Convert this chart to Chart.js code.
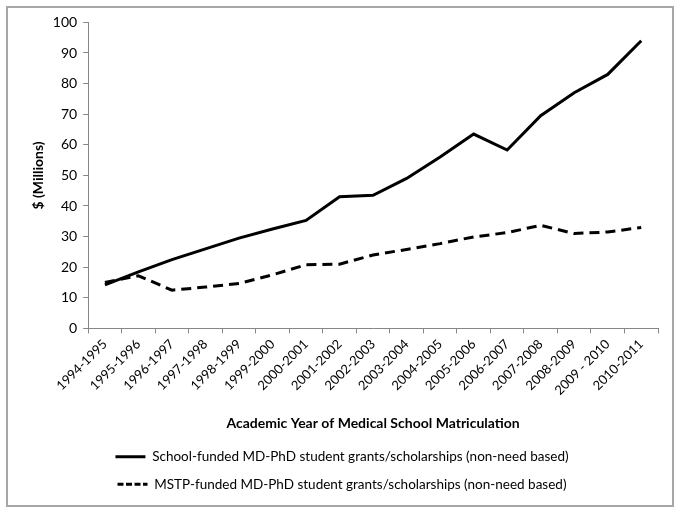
<!DOCTYPE html>
<html>
<head>
<meta charset="utf-8">
<script src="https://cdn.jsdelivr.net/npm/chart.js@4.4.1/dist/chart.umd.min.js"></script>
<style>
  html, body { margin: 0; padding: 0; background: #fff; }
  #frame {
    position: absolute; left: 6px; top: 6px;
    width: 664px; height: 497px;
    border: 2px solid #a6a6a6;
  }
  canvas { display: block; }
</style>
</head>
<body>
<div id="frame"><canvas id="chart" width="664" height="497"></canvas></div>
<script>
const years = [
  '1994-1995', '1995-1996', '1996-1997', '1997-1998', '1998-1999', '1999-2000',
  '2000-2001', '2001-2002', '2002-2003', '2003-2004', '2004-2005', '2005-2006',
  '2006-2007', '2007-2008', '2008-2009', '2009 - 2010', '2010-2011'
];
const schoolFunded = [14.2, 18.5, 22.5, 26, 29.5, 32.5, 35.3, 43, 43.5, 49, 56, 63.5, 58.3, 69.5, 77, 83, 94];
const mstpFunded = [15, 17.2, 12.5, 13.5, 14.7, 17.5, 20.8, 21, 24, 25.8, 27.7, 29.9, 31.3, 33.7, 31, 31.5, 33];
const yTicks = [0, 10, 20, 30, 40, 50, 60, 70, 80, 90, 100];

const axisGray = '#868686';
const fontFamily = 'Lato, "Open Sans", sans-serif';

const ctx = document.getElementById('chart').getContext('2d');
new Chart(ctx, {
  type: 'line',
  data: {
    labels: years,
    datasets: [{
      label: 'School-funded MD-PhD student grants/scholarships (non-need based)',
      data: schoolFunded,
      borderColor: '#000',
      backgroundColor: '#000',
      borderWidth: 3,
      pointRadius: 0,
      tension: 0,
      fill: false
    }, {
      label: 'MSTP-funded MD-PhD student grants/scholarships (non-need based)',
      data: mstpFunded,
      borderColor: '#000',
      backgroundColor: '#000',
      borderWidth: 3,
      borderDash: [10, 6],
      pointRadius: 0,
      tension: 0,
      fill: false
    }]
  },
  options: {
    responsive: false,
    animation: false,
    layout: { padding: { top: 6, right: 14, left: 18, bottom: 4 } },
    plugins: {
      tooltip: { enabled: false },
      legend: {
        position: 'bottom',
        labels: {
          color: '#000',
          font: { family: fontFamily, size: 13.5 },
          usePointStyle: true,
          pointStyle: 'line',
          pointStyleWidth: 30,
          padding: 14,
          generateLabels: chart => {
            const items = Chart.defaults.plugins.legend.labels.generateLabels(chart);
            items.forEach(item => {
              const ds = chart.data.datasets[item.datasetIndex];
              item.lineDash = ds.borderDash ? [6, 2.5] : [];
              item.lineWidth = 3;
            });
            return items;
          }
        }
      }
    },
    scales: {
      x: {
        offset: true,
        grid: {
          offset: true,
          drawOnChartArea: false,
          drawTicks: true,
          tickLength: 5,
          color: axisGray
        },
        border: { color: axisGray, width: 1 },
        ticks: {
          color: '#000',
          autoSkip: false,
          maxRotation: 45,
          minRotation: 45,
          font: { family: fontFamily, size: 13 }
        },
        title: {
          display: true,
          text: 'Academic Year of Medical School Matriculation',
          color: '#000',
          font: { family: fontFamily, size: 14, weight: 'bold' },
          padding: { top: 14, bottom: 4 }
        }
      },
      y: {
        min: 0,
        max: 100,
        afterBuildTicks: axis => { axis.ticks = yTicks.map(v => ({ value: v })); },
        grid: {
          drawOnChartArea: false,
          drawTicks: true,
          tickLength: 5,
          color: axisGray
        },
        border: { color: axisGray, width: 1 },
        ticks: {
          color: '#000',
          padding: 6,
          font: { family: fontFamily, size: 14 }
        },
        title: {
          display: true,
          text: '$ (Millions)',
          color: '#000',
          font: { family: fontFamily, size: 14, weight: 'bold' },
          padding: { bottom: 0 }
        }
      }
    }
  }
});
</script>
</body>
</html>
